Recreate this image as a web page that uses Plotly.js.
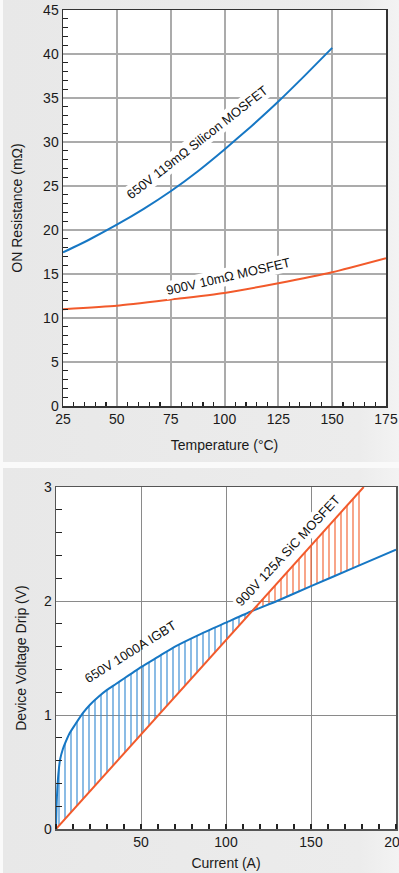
<!DOCTYPE html>
<html><head><meta charset="utf-8">
<script src="https://cdn.plot.ly/plotly-3.0.1.min.js"></script>
<style>
html,body{margin:0;padding:0;background:#fafafa;width:399px;height:873px;overflow:hidden;}
.panel{position:absolute;left:3px;width:396px;background:linear-gradient(to right,#e8e8e8,#ececec 90%,#f3f3f3);}
#c1{top:0;height:462px;}
#c2{top:468px;height:405px;}
</style></head><body>
<div id="c1" class="panel"></div>
<div id="c2" class="panel"></div>
<script>
// ---- Chart 1: ON resistance vs temperature ----
const siTempC = [25, 37.5, 50, 62.5, 75, 87.5, 100, 112.5, 125, 137.5, 150];
const siRdsOn = [17.45, 18.95, 20.6, 22.4, 24.4, 26.65, 29.15, 31.8, 34.6, 37.6, 40.7];
const sicTempC = [25, 50, 75, 100, 125, 150, 175];
const sicRdsOn = [11.0, 11.4, 12.1, 12.85, 13.95, 15.2, 16.8];
const siLabel = '650V 119mΩ Silicon MOSFET';
const sicLabel = '900V 10mΩ MOSFET';

// ---- Chart 2: device voltage drop vs current ----
const igbtCurrentA = [0, 0.3, 0.8, 1.5, 2.4, 4, 5.3, 8, 11, 16, 20, 25, 30, 35, 40, 45, 50, 60, 70, 85, 100, 115, 130, 150, 175, 200];
const igbtVoltV = [0, 0.2, 0.36, 0.5, 0.61, 0.7, 0.75, 0.84, 0.91, 1.02, 1.09, 1.16, 1.22, 1.27, 1.32, 1.37, 1.42, 1.51, 1.6, 1.71, 1.81, 1.91, 2.0, 2.13, 2.29, 2.45];
const sicCurrentA = [0, 181];
const sicVoltV = [0, 3.0];
const igbtLabel = '650V 1000A IGBT';
const sicMosLabel = '900V 125A SiC MOSFET';

const BLUE = '#1677c4', ORANGE = '#f25a2b';
const FONT = 'Liberation Sans, Arial, sans-serif';

function interp(xs, ys, x) {
  for (let i = 0; i < xs.length - 1; i++) {
    if (x >= xs[i] && x <= xs[i+1]) {
      const t = (x - xs[i]) / (xs[i+1] - xs[i]);
      return ys[i] + t * (ys[i+1] - ys[i]);
    }
  }
  return null;
}

// chart 1
const t1 = [
  {x: siTempC, y: siRdsOn, mode: 'lines', line: {color: BLUE, width: 2, shape: 'spline', smoothing: 0.5}, hoverinfo: 'skip'},
  {x: sicTempC, y: sicRdsOn, mode: 'lines', line: {color: ORANGE, width: 2, shape: 'spline', smoothing: 0.5}, hoverinfo: 'skip'}
];
const l1 = {
  width: 396, height: 462,
  margin: {l: 60, r: 13, t: 10, b: 56},
  paper_bgcolor: 'rgba(0,0,0,0)', plot_bgcolor: '#ffffff',
  showlegend: false,
  font: {family: FONT, color: '#1a1a1a', size: 14},
  xaxis: {
    range: [25, 175], tick0: 25, dtick: 25, ticks: '', showgrid: true, gridcolor: '#ababab', gridwidth: 2,
    showline: true, mirror: true, linecolor: '#333', linewidth: 1.5, zeroline: false,
    minor: {dtick: 5, ticks: 'inside', ticklen: 4, tickcolor: '#222', tickwidth: 1.2, showgrid: false},
    tickfont: {size: 14}, ticklabeloverflow: 'allow',
    title: {text: 'Temperature (°C)', font: {size: 14}, standoff: 14}
  },
  yaxis: {
    range: [0, 45], dtick: 5, ticks: '', showgrid: true, gridcolor: '#ababab', gridwidth: 2,
    showline: true, mirror: true, linecolor: '#333', linewidth: 1.5, zeroline: false,
    minor: {dtick: 1, ticks: 'inside', ticklen: 5, tickcolor: '#222', tickwidth: 1.2, showgrid: false},
    tickfont: {size: 14}, ticklabeloverflow: 'allow',
    title: {text: 'ON Resistance (mΩ)', font: {size: 14}, standoff: 17}
  },
  annotations: [
    {x: 87.3, y: 29.9, xref: 'x', yref: 'y', text: siLabel, showarrow: false, textangle: -38,
     font: {size: 13, family: FONT, color: '#111'}, bgcolor: '#ffffff', borderpad: 1},
    {x: 101.7, y: 14.7, xref: 'x', yref: 'y', text: sicLabel, showarrow: false, textangle: -13,
     font: {size: 13, family: FONT, color: '#111'}, bgcolor: '#ffffff', borderpad: 1}
  ]
};
Plotly.newPlot('c1', t1, l1, {displayModeBar: false, staticPlot: true});

// chart 2: hatched regions between curves
const xsAll = Array.from(new Set(igbtCurrentA.concat(sicCurrentA))).filter(x => x <= sicCurrentA[sicCurrentA.length-1]).sort((a,b)=>a-b);
let xc = null, yc = null;
for (let i = 1; i < xsAll.length - 1 && xc === null; i++) {
  const a = xsAll[i], b = xsAll[i+1];
  const da = interp(igbtCurrentA, igbtVoltV, a) - interp(sicCurrentA, sicVoltV, a);
  const db = interp(igbtCurrentA, igbtVoltV, b) - interp(sicCurrentA, sicVoltV, b);
  if (da > 0 && db <= 0) {
    xc = a + (b - a) * da / (da - db);
    yc = interp(sicCurrentA, sicVoltV, xc);
  }
}
const xEnd = sicCurrentA[sicCurrentA.length-1];
const p1x = [], p1y = [];
igbtCurrentA.forEach((x, i) => { if (x < xc) { p1x.push(x); p1y.push(igbtVoltV[i]); } });
p1x.push(xc); p1y.push(yc);
for (let i = sicCurrentA.length - 1; i >= 0; i--) if (sicCurrentA[i] < xc) { p1x.push(sicCurrentA[i]); p1y.push(sicVoltV[i]); }
const p2x = [xc], p2y = [yc];
sicCurrentA.forEach((x, i) => { if (x > xc) { p2x.push(x); p2y.push(sicVoltV[i]); } });
p2x.push(xEnd); p2y.push(interp(igbtCurrentA, igbtVoltV, xEnd));
for (let i = igbtCurrentA.length - 1; i >= 0; i--) if (igbtCurrentA[i] > xc && igbtCurrentA[i] < xEnd) { p2x.push(igbtCurrentA[i]); p2y.push(igbtVoltV[i]); }
p2x.push(xc); p2y.push(yc);

const t2 = [
  {x: p1x, y: p1y, mode: 'lines', fill: 'toself', line: {width: 0, color: 'rgba(0,0,0,0)'}, fillcolor: 'rgba(0,0,0,0)',
   fillpattern: {shape: '|', size: 6, solidity: 0.2, fgcolor: '#3d8fd3', bgcolor: 'rgba(0,0,0,0)'}, hoverinfo: 'skip'},
  {x: p2x, y: p2y, mode: 'lines', fill: 'toself', line: {width: 0, color: 'rgba(0,0,0,0)'}, fillcolor: 'rgba(0,0,0,0)',
   fillpattern: {shape: '|', size: 6, solidity: 0.2, fgcolor: '#f3693a', bgcolor: 'rgba(0,0,0,0)'}, hoverinfo: 'skip'},
  {x: igbtCurrentA, y: igbtVoltV, mode: 'lines', line: {color: BLUE, width: 2, shape: 'spline', smoothing: 0.5}, hoverinfo: 'skip'},
  {x: sicCurrentA, y: sicVoltV, mode: 'lines', line: {color: ORANGE, width: 2}, hoverinfo: 'skip'}
];
const l2 = {
  width: 396, height: 405,
  margin: {l: 53, r: 3, t: 19, b: 44},
  paper_bgcolor: 'rgba(0,0,0,0)', plot_bgcolor: '#ffffff',
  showlegend: false,
  font: {family: FONT, color: '#1a1a1a', size: 14},
  xaxis: {
    range: [0, 200], dtick: 50, ticks: '', showgrid: true, gridcolor: '#8a8a8a', gridwidth: 1,
    showline: true, mirror: true, linecolor: '#555', linewidth: 1.5, zeroline: false,
    minor: {dtick: 10, ticks: 'inside', ticklen: 5, tickcolor: '#222', tickwidth: 1.2, showgrid: false},
    tickvals: [50, 100, 150, 200], ticktext: ['50', '100', '150', '200'],
    tickfont: {size: 14}, ticklabeloverflow: 'allow',
    title: {text: 'Current (A)', font: {size: 14}, standoff: 9}
  },
  yaxis: {
    range: [0, 3], dtick: 1, ticks: '', showgrid: true, gridcolor: '#8a8a8a', gridwidth: 1,
    showline: true, mirror: true, linecolor: '#555', linewidth: 1.5, zeroline: false,
    minor: {dtick: 0.2, ticks: 'inside', ticklen: 6, tickcolor: '#222', tickwidth: 1.2, showgrid: false},
    tickfont: {size: 14}, ticklabeloverflow: 'allow',
    title: {text: 'Device Voltage Drip (V)', font: {size: 14}, standoff: 14}
  },
  annotations: [
    {x: 44.1, y: 1.554, xref: 'x', yref: 'y', text: igbtLabel, showarrow: false, textangle: -32,
     font: {size: 13, family: FONT, color: '#111'}},
    {x: 136.5, y: 2.44, xref: 'x', yref: 'y', text: sicMosLabel, showarrow: false, textangle: -47,
     font: {size: 13, family: FONT, color: '#111'}, bgcolor: '#ffffff', borderpad: 1}
  ]
};
Plotly.newPlot('c2', t2, l2, {displayModeBar: false, staticPlot: true});
</script>
</body></html>
